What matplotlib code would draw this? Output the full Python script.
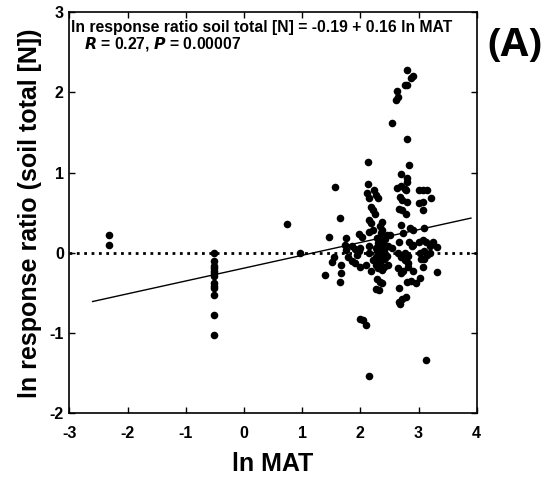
import matplotlib
matplotlib.use("Agg")
import matplotlib.pyplot as plt
import numpy as np

plt.rcParams['font.family'] = ['Liberation Sans', 'DejaVu Sans']
plt.rcParams['axes.unicode_minus'] = False

# ln MAT (x) and ln response ratio soil total [N] (y)
ln_mat = [
    -2.32, -2.32,
    -0.51, -0.51, -0.51, -0.51, -0.51, -0.51, -0.51, -0.51, -0.51, -0.51, -0.51, -0.51, -0.51,
    0.74, 0.96,
    2.81, 2.91, 2.87, 2.76, 2.81, 2.63, 2.64, 2.62, 2.54, 2.81, 2.84, 2.13, 2.70, 1.56, 2.13,
    1.65, 1.46, 2.80, 2.81, 2.70, 2.63, 2.76, 2.79, 3.01, 3.07, 3.15, 2.24, 2.12, 2.27, 2.15,
    2.30, 2.68, 2.72, 2.81, 3.00, 3.07, 3.21, 3.07, 2.66, 2.72, 2.78, 2.18, 2.21, 2.25, 2.15,
    2.38, 2.18, 2.70, 2.33, 2.38, 2.85, 2.90, 3.10, 2.21, 2.15, 2.74, 2.45, 2.51, 1.97, 2.03,
    2.29, 2.43, 2.37, 2.67, 2.84, 3.01, 3.07, 3.13, 3.25, 3.31, 1.76, 1.73, 1.85, 1.91, 2.00,
    2.15, 2.30, 2.48, 2.54, 2.88, 2.91, 3.19, 2.27, 2.41, 1.76, 1.97, 2.15, 2.37, 2.65, 2.76,
    3.02, 3.19, 1.54, 1.79, 1.94, 2.27, 2.45, 2.70, 2.82, 3.15, 3.04, 3.10, 1.51, 1.85, 1.91,
    2.21, 2.33, 2.40, 2.76, 2.82, 2.27, 2.40, 2.48, 2.00, 1.66, 2.09, 2.82, 2.30, 2.65, 2.37,
    2.18, 3.07, 2.74, 2.70, 2.91, 1.67, 3.31, 1.39, 3.02, 2.28, 2.34, 2.38, 2.81, 2.87, 2.95,
    1.65, 2.27, 2.32, 2.67, 2.78, 2.72, 2.66, 2.68, 1.99, 2.04, 2.10, 3.13, 2.15, 3.10,
    2.35, 2.32, 2.40, 2.28, 2.42, 2.36, 2.34,
]
ln_rr = [
    0.22, 0.10,
    0.00, -0.10, -0.16, -0.19, -0.22, -0.25, -0.29, -0.38, -0.41, -0.44, -0.53, -0.77, -1.02,
    0.365, 0.00,
    2.28, 2.20, 2.18, 2.09, 2.09, 2.02, 1.94, 1.91, 1.62, 1.42, 1.10, 1.13, 0.98, 0.82, 0.86,
    0.44, 0.20, 0.93, 0.88, 0.84, 0.81, 0.80, 0.78, 0.78, 0.78, 0.78, 0.78, 0.75, 0.72, 0.69,
    0.68, 0.70, 0.66, 0.64, 0.62, 0.64, 0.69, 0.53, 0.55, 0.53, 0.49, 0.57, 0.54, 0.49, 0.41,
    0.39, 0.37, 0.35, 0.34, 0.29, 0.31, 0.28, 0.31, 0.29, 0.26, 0.25, 0.22, 0.22, 0.23, 0.20,
    0.19, 0.17, 0.15, 0.13, 0.13, 0.14, 0.16, 0.13, 0.13, 0.07, 0.18, 0.10, 0.09, 0.05, 0.06,
    0.09, 0.12, 0.08, 0.06, 0.08, 0.10, 0.08, 0.06, 0.04, 0.04, 0.02, 0.00, 0.00, 0.00, 0.00,
    0.00, 0.00, -0.05, -0.05, -0.03, -0.05, -0.04, -0.05, -0.04, -0.03, -0.07, -0.07, -0.11, -0.10, -0.13,
    -0.09, -0.11, -0.08, -0.09, -0.13, -0.15, -0.17, -0.15, -0.17, -0.15, -0.15, -0.17, -0.19, -0.19, -0.21,
    -0.22, -0.17, -0.23, -0.25, -0.23, -0.25, -0.24, -0.28, -0.31, -0.33, -0.36, -0.38, -0.36, -0.35, -0.38,
    -0.36, -0.45, -0.46, -0.44, -0.55, -0.58, -0.61, -0.64, -0.82, -0.84, -0.90, -1.34, -1.54, 0.02,
    0.05, -0.02, 0.10, 0.02, -0.06, 0.25, -0.13,
]

# regression line reported in the figure
intercept = -0.19
slope = 0.16
fit_x = [-2.6, 3.9]

fig = plt.figure(figsize=(5.55, 4.82), dpi=100)
ax = fig.add_axes([0.125, 0.1425, 0.734, 0.832])

ax.axhline(0, color='black', linestyle=':', linewidth=2)
fx = np.array(fit_x)
ax.plot(fx, intercept + slope * fx, color='black', linewidth=1)
ax.scatter(ln_mat, ln_rr, s=30, color='black', zorder=3, linewidths=0)

ax.set_xlim(-3, 4)
ax.set_ylim(-2, 3)
ax.set_xticks(range(-3, 5))
ax.set_yticks(range(-2, 4))
ax.tick_params(direction='in', top=True, right=True, length=4, width=1,
               labelsize=11.5, pad=4)
ax.tick_params(axis='x', pad=9)
for lab in ax.get_xticklabels() + ax.get_yticklabels():
    lab.set_fontweight('bold')
for sp in ax.spines.values():
    sp.set_linewidth(1.2)

ax.set_xlabel('ln MAT', fontsize=18, fontweight='bold', labelpad=8)
ax.set_ylabel('ln response ratio (soil total [N])', fontsize=18,
              fontweight='bold', labelpad=5)

ax.text(0.005, 0.962, 'ln response ratio soil total [N] = -0.19 + 0.16 ln MAT',
        transform=ax.transAxes, fontsize=11.3, fontweight='bold', va='center')
ax.text(0.035, 0.922, r'$\bfit{R}$ = 0.27, $\bfit{P}$ = 0.00007',
        transform=ax.transAxes, fontsize=11.3, fontweight='bold', va='center')

fig.text(0.878, 0.905, '(A)', fontsize=29, fontweight='bold', va='center',
         family=['Open Sans', 'DejaVu Sans'])

fig.savefig('out.png', dpi=100)
